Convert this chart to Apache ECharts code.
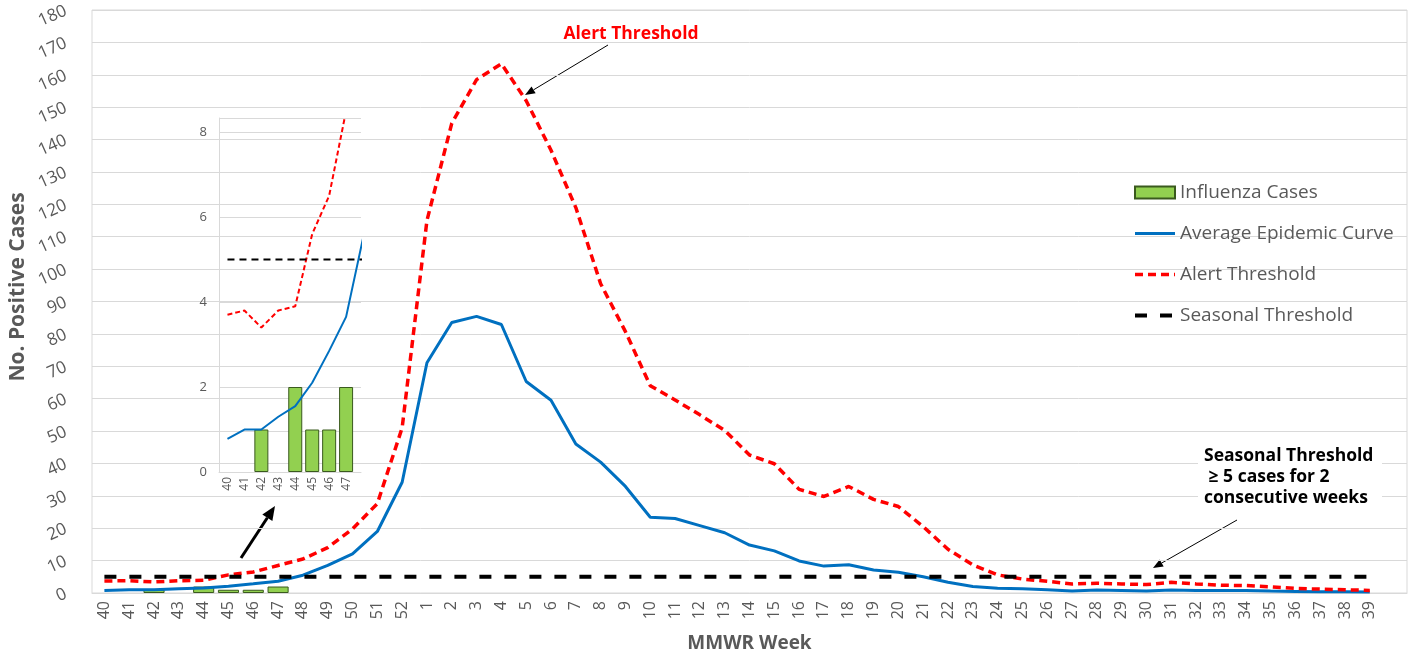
<!DOCTYPE html>
<html>
<head>
<meta charset="utf-8">
<title>Influenza Cases by MMWR Week</title>
<script src="https://cdn.jsdelivr.net/npm/echarts@6/dist/echarts.min.js"></script>
<style>
    html, body { margin: 0; padding: 0; background: #fff; }
    #chart { width: 1417px; height: 655px; }
</style>
</head>
<body>
<div id="chart"></div>
<script>
// MMWR weeks 40..52 then 1..39 (one empty slot at the end, like the original axis)
var weeks = ['40', '41', '42', '43', '44', '45', '46', '47', '48', '49', '50', '51', '52',
    '1', '2', '3', '4', '5', '6', '7', '8', '9', '10', '11', '12', '13', '14', '15', '16',
    '17', '18', '19', '20', '21', '22', '23', '24', '25', '26', '27', '28', '29', '30',
    '31', '32', '33', '34', '35', '36', '37', '38', '39', ''];

// no bar drawn for weeks without cases
var influenzaCases = [null, null, 1, null, 2, 1, 1, 2];

var averageCurve = [0.78, 1.0, 1.0, 1.3, 1.55, 2.1, 2.85, 3.65, 5.5, 8.5, 12.1, 19.0, 34.2,
    71.1, 83.5, 85.4, 82.9, 65.3, 59.5, 46.0, 40.4, 32.9, 23.4, 23.0, 20.8, 18.6, 14.8,
    13.0, 9.9, 8.3, 8.7, 7.1, 6.4, 5.0, 3.3, 2.0, 1.5, 1.3, 1.0, 0.6, 0.9, 0.8, 0.6,
    0.9, 0.8, 0.8, 0.8, 0.6, 0.5, 0.4, 0.4, 0.3];

var alertThreshold = [3.7, 3.8, 3.4, 3.8, 3.9, 5.6, 6.5, 8.5, 10.5, 14.0, 19.8, 27.6, 51.0,
    115, 145, 158.5, 163.4, 152, 136.7, 119, 95.5, 80.7, 64.0, 59.6, 55.0, 50.2, 42.6,
    39.9, 32.0, 29.8, 32.9, 28.9, 26.7, 20.5, 13.5, 8.7, 5.6, 4.3, 3.6, 2.8, 3.0, 2.8, 2.6,
    3.3, 2.8, 2.4, 2.3, 1.9, 1.4, 1.2, 1.0, 0.8];

var seasonalThreshold = [5, 5, 5, 5, 5, 5, 5, 5, 5, 5, 5, 5, 5,
    5, 5, 5, 5, 5, 5, 5, 5, 5, 5, 5, 5, 5, 5, 5, 5, 5, 5, 5, 5, 5, 5, 5, 5, 5, 5,
    5, 5, 5, 5, 5, 5, 5, 5, 5, 5, 5, 5, 5];

var yTicks = [0, 180, 10];       // min, max, step of the main axis
var insetTicks = [0, 8.33, 2];   // min, max, step of the zoomed inset

var textGrey = '#595959';
var gridGrey = '#d9d9d9';
var font = "'Open Sans', 'Noto Sans', sans-serif";

// the inset is a zoom on the first weeks, drawn on a numeric week axis
var insetLen = 9;
function insetPairs(arr) {
    var out = [];
    for (var i = 0; i < insetLen && i < arr.length; i++) {
        out.push([Number(weeks[i]), arr[i]]);
    }
    return out;
}

function arrow(x1, y1, x2, y2, w, headLen, headW) {
    var ang = Math.atan2(y2 - y1, x2 - x1);
    var bx = x2 - Math.cos(ang) * headLen, by = y2 - Math.sin(ang) * headLen;
    var px = Math.sin(ang) * headW / 2, py = -Math.cos(ang) * headW / 2;
    return {
        type: 'group',
        z: 100,
        children: [
            {type: 'line', shape: {x1: x1, y1: y1, x2: bx, y2: by}, style: {stroke: '#000', lineWidth: w}},
            {type: 'polygon', shape: {points: [[x2, y2], [bx + px, by + py], [bx - px, by - py]]}, style: {fill: '#000'}}
        ]
    };
}

var chart = echarts.init(document.getElementById('chart'));

chart.setOption({
    animation: false,
    textStyle: {fontFamily: font},
    legend: {
        orient: 'vertical',
        left: 1128,
        top: 178,
        itemWidth: 40,
        itemHeight: 12,
        itemGap: 22,
        textStyle: {color: textGrey, fontSize: 19, fontFamily: font},
        data: [
            {name: 'Influenza Cases', icon: 'rect'},
            {name: 'Average Epidemic Curve', itemStyle: {opacity: 0}, lineStyle: {width: 3}},
            {name: 'Alert Threshold', itemStyle: {opacity: 0}, lineStyle: {width: 3.5}},
            {name: 'Seasonal Threshold', itemStyle: {opacity: 0}, lineStyle: {width: 4}}
        ]
    },
    grid: [
        {left: 92, right: 10, top: 10, bottom: 62, outerBoundsMode: 'none',
            show: true, borderColor: gridGrey, borderWidth: 1},
        {left: 219, top: 118, width: 142, height: 354, outerBoundsMode: 'none'}
    ],
    xAxis: [
        {
            type: 'category',
            data: weeks,
            gridIndex: 0,
            name: 'MMWR Week',
            nameLocation: 'middle',
            nameGap: 41,
            nameTextStyle: {color: textGrey, fontSize: 19, fontWeight: 'bold'},
            axisLine: {lineStyle: {color: gridGrey}},
            axisTick: {show: false},
            axisLabel: {rotate: 90, color: textGrey, fontSize: 16, margin: 8, interval: 0}
        },
        {
            type: 'value',
            gridIndex: 1,
            min: 39.5,
            max: 47.88,
            interval: 0.5,
            axisLine: {show: true, lineStyle: {color: gridGrey}},
            axisTick: {show: false},
            splitLine: {show: false},
            axisLabel: {
                rotate: 90, color: textGrey, fontSize: 12, margin: 5,
                showMaxLabel: false,
                formatter: function (v) { return v % 1 === 0 ? String(v) : ''; }
            }
        }
    ],
    yAxis: [
        {
            type: 'value',
            gridIndex: 0,
            min: yTicks[0],
            max: yTicks[1],
            interval: yTicks[2],
            axisLine: {show: false},
            axisTick: {show: false},
            splitLine: {lineStyle: {color: gridGrey}},
            axisLabel: {rotate: 24, color: textGrey, fontSize: 17, margin: 26}
        },
        {
            type: 'value',
            gridIndex: 1,
            min: insetTicks[0],
            max: insetTicks[1],
            interval: insetTicks[2],
            axisLine: {show: true, lineStyle: {color: gridGrey}},
            axisTick: {show: false},
            splitLine: {lineStyle: {color: gridGrey}},
            axisLabel: {
                color: textGrey, fontSize: 13, margin: 12, showMaxLabel: false,
                formatter: function (v) { return v % 2 === 0 ? String(v) : ''; }
            }
        }
    ],
    series: [
        {
            name: 'Influenza Cases',
            type: 'bar',
            data: influenzaCases,
            barCategoryGap: '15%',
            itemStyle: {color: '#92d050', borderColor: '#3a5a1e', borderWidth: 1}
        },
        {
            name: 'Average Epidemic Curve',
            type: 'line',
            data: averageCurve,
            symbol: 'none',
            lineStyle: {color: '#0070c0', width: 3}
        },
        {
            name: 'Alert Threshold',
            type: 'line',
            data: alertThreshold,
            symbol: 'none',
            lineStyle: {color: '#ff0000', width: 3.5, type: [8, 5]}
        },
        {
            name: 'Seasonal Threshold',
            type: 'line',
            data: seasonalThreshold,
            symbol: 'none',
            lineStyle: {color: '#000', width: 4, type: [12, 13]}
        },
        // inset copies
        {
            name: 'Influenza Cases',
            type: 'bar',
            xAxisIndex: 1,
            yAxisIndex: 1,
            data: insetPairs(influenzaCases),
            barWidth: 14,
            itemStyle: {color: '#92d050', borderColor: '#3a5a1e', borderWidth: 1}
        },
        {
            name: 'Average Epidemic Curve',
            type: 'line',
            xAxisIndex: 1,
            yAxisIndex: 1,
            data: insetPairs(averageCurve),
            symbol: 'none',
            lineStyle: {color: '#0070c0', width: 2}
        },
        {
            name: 'Alert Threshold',
            type: 'line',
            xAxisIndex: 1,
            yAxisIndex: 1,
            data: insetPairs(alertThreshold),
            symbol: 'none',
            lineStyle: {color: '#ff0000', width: 2, type: [5, 3]}
        },
        {
            name: 'Seasonal Threshold',
            type: 'line',
            xAxisIndex: 1,
            yAxisIndex: 1,
            data: insetPairs(seasonalThreshold),
            symbol: 'none',
            lineStyle: {color: '#000', width: 2, type: [7, 5]}
        }
    ],
    graphic: [
        {
            type: 'text', x: 18, y: 287, rotation: Math.PI / 2, z: 100,
            style: {text: 'No. Positive Cases', fill: textGrey, font: 'bold 21px ' + font, align: 'center', verticalAlign: 'middle'}
        },
        {
            type: 'text', x: 631, y: 34, z: 100,
            style: {text: 'Alert Threshold', fill: '#ff0000', font: 'bold 17.5px ' + font, align: 'center', verticalAlign: 'middle'}
        },
        arrow(608, 45, 525, 95, 1, 10, 8),
        // white text box behind the seasonal note
        {
            type: 'rect', z: 100, shape: {x: 1198, y: 444, width: 184, height: 66},
            style: {fill: '#fff'}
        },
        {
            type: 'text', x: 1204, y: 446, z: 101,
            style: {
                text: 'Seasonal Threshold\n \u2265 5 cases for 2\nconsecutive weeks',
                fill: '#000', font: 'bold 17.5px ' + font, lineHeight: 21, align: 'left', verticalAlign: 'top'
            }
        },
        arrow(1237, 520, 1153, 568, 1, 10, 8),
        arrow(241, 558, 275, 506, 3, 14, 12)
    ]
});
</script>
</body>
</html>
